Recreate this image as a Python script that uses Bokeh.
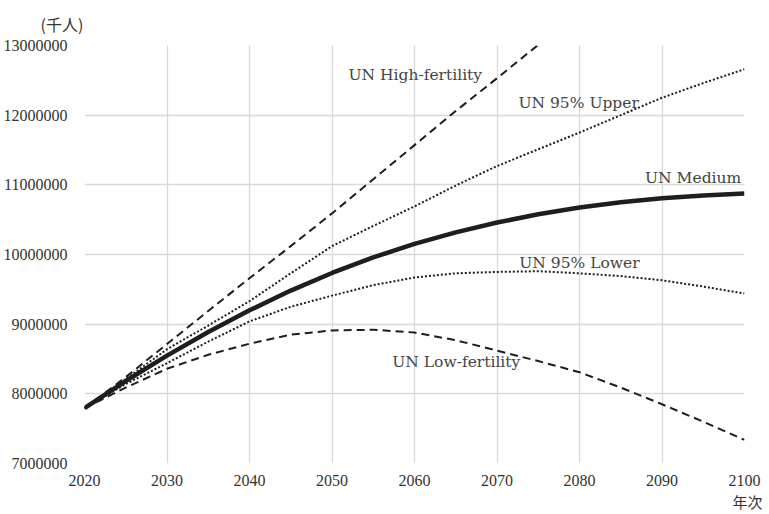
from bokeh.plotting import figure
from bokeh.models import FixedTicker, NumeralTickFormatter, Title, ColumnDataSource
from bokeh.core.properties import value
from bokeh.embed import file_html
from bokeh.resources import INLINE

# ---- data (thousands of persons) ----
years = [2020, 2025, 2030, 2035, 2040, 2045, 2050, 2055, 2060, 2065, 2070,
         2075, 2080, 2085, 2090, 2095, 2100]
medium = [7795000, 8184000, 8548000, 8888000, 9199000, 9482000, 9735000, 9958000,
          10152000, 10318000, 10459000, 10577000, 10674000, 10750000, 10806000,
          10848000, 10875000]
upper95 = [7795000, 8210000, 8640000, 8980000, 9330000, 9730000, 10120000, 10410000,
           10690000, 10990000, 11270000, 11510000, 11750000, 12000000, 12250000,
           12460000, 12660000]
lower95 = [7795000, 8140000, 8440000, 8750000, 9040000, 9250000, 9410000, 9560000,
           9670000, 9730000, 9750000, 9760000, 9730000, 9690000, 9630000, 9540000,
           9440000]
high_years = [2020, 2025, 2030, 2035, 2040, 2045, 2050, 2055, 2060, 2065, 2070, 2075, 2080]
high = [7795000, 8240000, 8715000, 9190000, 9660000, 10120000, 10590000, 11080000,
        11570000, 12060000, 12530000, 13010000, 13500000]
low = [7795000, 8090000, 8360000, 8560000, 8720000, 8850000, 8910000, 8920000,
       8880000, 8770000, 8620000, 8470000, 8310000, 8090000, 7850000, 7600000,
       7340000]

x_ticks = [2020, 2030, 2040, 2050, 2060, 2070, 2080, 2090, 2100]
y_ticks = [7000000, 8000000, 9000000, 10000000, 11000000, 12000000, 13000000]

series_labels = ["UN High-fertility", "UN 95% Upper", "UN Medium", "UN 95% Lower", "UN Low-fertility"]
y_unit = "(千人)"
x_unit = "年次"

# ---- figure ----
p = figure(frame_width=660, frame_height=418, output_backend="svg", toolbar_location=None,
           x_range=(2020, 2100), y_range=(7000000, 13000000),
           min_border_left=78, min_border_right=20, min_border_top=38, min_border_bottom=2)
p.outline_line_color = None
p.background_fill_color = "white"
p.border_fill_color = "white"

for ax in (p.xaxis[0], p.yaxis[0]):
    ax.axis_line_color = None
    ax.major_tick_line_color = None
    ax.minor_tick_line_color = None
    ax.major_label_text_font = "Liberation Serif"
    ax.major_label_text_font_size = "16px"
    ax.major_label_text_color = "#333333"

p.xaxis.ticker = FixedTicker(ticks=x_ticks)
p.yaxis.ticker = FixedTicker(ticks=y_ticks)
p.yaxis.formatter = NumeralTickFormatter(format="0")
p.xaxis.major_label_standoff = 5
p.yaxis.major_label_standoff = 11

p.xgrid.ticker = FixedTicker(ticks=x_ticks)
p.ygrid.ticker = FixedTicker(ticks=y_ticks)
p.grid.grid_line_color = "#d9d9d9"
p.grid.grid_line_width = 1.3

ink = "#1e1e1e"
p.line(high_years, high, line_color=ink, line_width=2, line_dash="8 5")
p.line(years, low, line_color=ink, line_width=2, line_dash="8 5")
p.line(years, upper95, line_color=ink, line_width=2, line_dash="2 2")
p.line(years, lower95, line_color=ink, line_width=2, line_dash="2 2")
p.line(years, medium, line_color=ink, line_width=4.5)

# ---- series labels (placement only) ----
lab_x = [2052.0, 2072.6, 2099.6, 2072.7, 2057.3]
lab_y = [12570000, 12180000, 11100000, 9880000, 8450000]
lab_align = ["left", "left", "right", "left", "left"]
src = ColumnDataSource(dict(x=lab_x, y=lab_y, t=series_labels, a=lab_align))
p.text(x="x", y="y", text="t", source=src, text_align="a", text_baseline="middle",
       text_font=value("DejaVu Serif"), text_font_size="15.5px", text_color="#444444")

p.add_layout(Title(text=y_unit, align="left", offset=-44, standoff=19,
                   text_font="Noto Sans CJK JP", text_font_size="16px",
                   text_font_style="normal", text_color="#333333"), "above")
p.add_layout(Title(text=x_unit, align="right", offset=-18, standoff=0,
                   text_font="Noto Sans CJK JP", text_font_size="15px",
                   text_font_style="normal", text_color="#333333"), "below")

open("out.html", "w").write(file_html(p, INLINE))
